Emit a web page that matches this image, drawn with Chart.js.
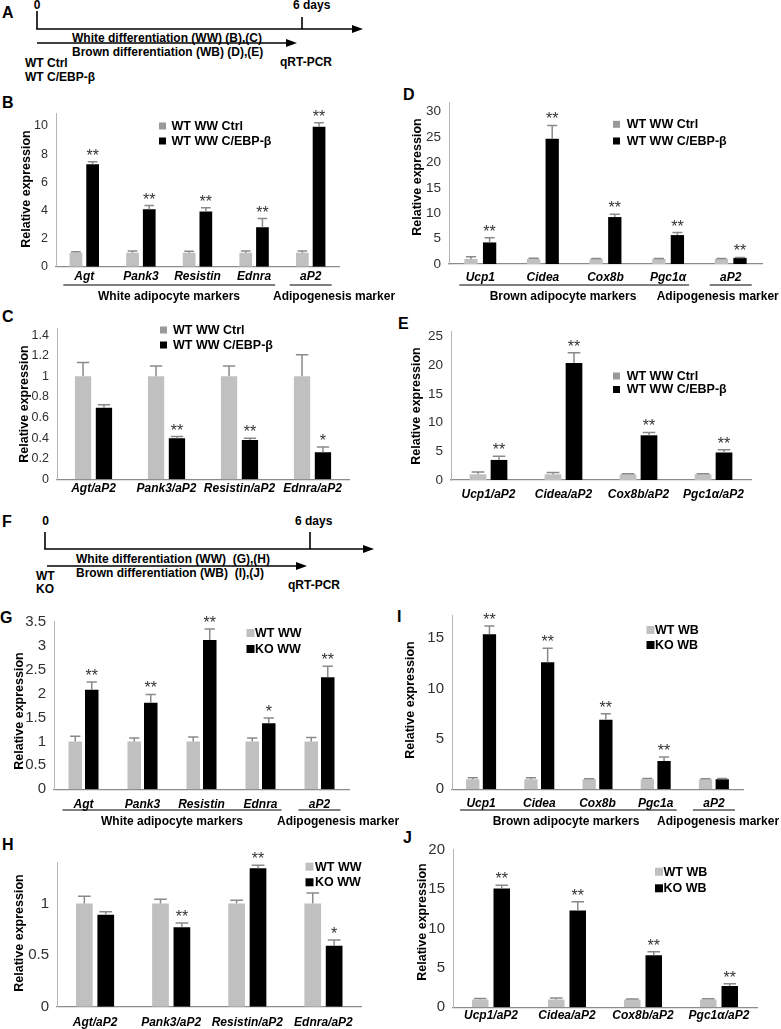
<!DOCTYPE html>
<html>
<head>
<meta charset="utf-8">
<script src="https://cdn.jsdelivr.net/npm/chart.js@4.4.1/dist/chart.umd.min.js"></script>
<style>
  html, body { margin: 0; padding: 0; background: #fff; }
  #page { position: relative; width: 781px; height: 1029px; overflow: hidden; }
  #page svg { position: absolute; left: 0; top: 0; }
  svg text { font-family: "Liberation Sans", Arial, sans-serif; fill: #000; white-space: pre; }
  svg .t { font-size: 12px; font-weight: bold; }
  svg .L { font-size: 16px; font-weight: bold; }
  svg line { stroke: #000; stroke-width: 1.6; }
</style>
</head>
<body>
<div id="page">
<svg width="781" height="1029">
  <!-- A: timeline -->
  <text x="2" y="18" class="L">A</text>
  <text x="37" y="8.5" text-anchor="middle" class="t">0</text>
  <line x1="37" y1="11" x2="37" y2="29"/>
  <line x1="36.2" y1="29" x2="354" y2="29"/>
  <polygon points="352,25 363,29 352,33"/>
  <line x1="302" y1="17" x2="302" y2="29"/>
  <text x="293" y="8.5" class="t">6 days</text>
  <line x1="37" y1="43" x2="288" y2="43"/>
  <polygon points="286,39 297,43 286,47"/>
  <text x="72" y="41.5" class="t">White differentiation (WW) (B),(C)</text>
  <text x="72" y="55.5" class="t">Brown differentiation (WB) (D),(E)</text>
  <text x="25" y="66.5" class="t">WT Ctrl</text>
  <text x="25" y="81" class="t">WT C/EBP-β</text>
  <text x="280" y="66" class="t">qRT-PCR</text>
  <text x="2" y="108" class="L">B</text>
  <text x="2" y="322" class="L">C</text>
  <text x="403" y="100" class="L">D</text>
  <text x="398" y="329" class="L">E</text>
  <!-- F: timeline -->
  <text x="2" y="527" class="L">F</text>
  <text x="45.5" y="525" text-anchor="middle" class="t">0</text>
  <line x1="45" y1="532" x2="45" y2="549"/>
  <line x1="44.2" y1="549" x2="365" y2="549"/>
  <polygon points="363,545 374,549 363,553"/>
  <line x1="310" y1="532" x2="310" y2="549"/>
  <text x="295" y="525" class="t">6 days</text>
  <line x1="47" y1="566" x2="298" y2="566"/>
  <polygon points="296,562 307,566 296,570"/>
  <text x="76" y="563" class="t">White differentiation (WW)  (G),(H)</text>
  <text x="76" y="577" class="t">Brown differentiation (WB)  (I),(J)</text>
  <text x="36" y="580" class="t">WT</text>
  <text x="36" y="593" class="t">KO</text>
  <text x="288" y="588.5" class="t">qRT-PCR</text>
  <text x="0" y="623" class="L">G</text>
  <text x="397" y="622" class="L">I</text>
  <text x="2" y="850" class="L">H</text>
  <text x="403" y="843" class="L">J</text>
</svg>
</div>
<script>
// ---- B: white markers, WT WW Ctrl vs C/EBP-β ----
const bCats = ['Agt', 'Pank3', 'Resistin', 'Ednra', 'aP2'];
const bCtrl = [1, 1, 1, 1, 1];
const bCtrlErr = [0.06, 0.12, 0.1, 0.12, 0.12];
const bCebp = [7.28, 4.08, 3.92, 2.8, 9.95];
const bCebpErr = [0.18, 0.26, 0.26, 0.62, 0.28];
const bStars = ['**', '**', '**', '**', '**'];
const bTicks = [0, 2, 4, 6, 8, 10];

// ---- C: white markers / aP2 ----
const cCats = ['Agt/aP2', 'Pank3/aP2', 'Resistin/aP2', 'Ednra/aP2'];
const cCtrl = [1, 1, 1, 1];
const cCtrlErr = [0.135, 0.1, 0.1, 0.21];
const cCebp = [0.695, 0.4, 0.383, 0.263];
const cCebpErr = [0.03, 0.015, 0.015, 0.052];
const cStars = ['', '**', '**', '*'];
const cTicks = [0, 0.2, 0.4, 0.6, 0.8, 1, 1.2, 1.4];

// ---- D: brown markers ----
const dCats = ['Ucp1', 'Cidea', 'Cox8b', 'Pgc1α', 'aP2'];
const dCtrl = [1, 1, 1, 1, 1];
const dCtrlErr = [0.42, 0.15, 0.1, 0.1, 0.1];
const dCebp = [4.25, 24.7, 9.25, 5.7, 1.2];
const dCebpErr = [0.9, 2.6, 0.55, 0.5, 0.1];
const dStars = ['**', '**', '**', '**', '**'];
const dTicks = [0, 5, 10, 15, 20, 25, 30];

// ---- E: brown markers / aP2 ----
const eCats = ['Ucp1/aP2', 'Cidea/aP2', 'Cox8b/aP2', 'Pgc1α/aP2'];
const eCtrl = [1, 1, 1, 1];
const eCtrlErr = [0.4, 0.3, 0.1, 0.1];
const eCebp = [3.5, 20.4, 7.8, 4.8];
const eCebpErr = [0.65, 1.8, 0.5, 0.5];
const eStars = ['**', '**', '**', '**'];
const eTicks = [0, 5, 10, 15, 20, 25];

// ---- G: WT WW vs KO WW ----
const gCats = ['Agt', 'Pank3', 'Resistin', 'Ednra', 'aP2'];
const gWt = [1, 1, 1, 1, 1];
const gWtErr = [0.11, 0.07, 0.09, 0.07, 0.08];
const gKo = [2.08, 1.81, 3.12, 1.38, 2.34];
const gKoErr = [0.16, 0.17, 0.23, 0.11, 0.23];
const gStars = ['**', '**', '**', '*', '**'];
const gTicks = [0, 0.5, 1, 1.5, 2, 2.5, 3, 3.5];

// ---- I: WT WB vs KO WB ----
const iCats = ['Ucp1', 'Cidea', 'Cox8b', 'Pgc1a', 'aP2'];
const iWt = [1, 1, 1, 1, 1];
const iWtErr = [0.15, 0.15, 0.05, 0.07, 0.05];
const iKo = [15.4, 12.6, 6.9, 2.8, 1.0];
const iKoErr = [0.8, 1.4, 0.6, 0.4, 0.06];
const iStars = ['**', '**', '**', '**', ''];
const iTicks = [0, 5, 10, 15];

// ---- H: white markers / aP2, WT vs KO ----
const hCats = ['Agt/aP2', 'Pank3/aP2', 'Resistin/aP2', 'Ednra/aP2'];
const hWt = [1, 1, 1, 1];
const hWtErr = [0.07, 0.04, 0.03, 0.1];
const hKo = [0.89, 0.77, 1.34, 0.59];
const hKoErr = [0.03, 0.04, 0.03, 0.055];
const hStars = ['', '**', '**', '*'];
const hTicks = [0, 0.5, 1];

// ---- J: brown markers / aP2, WT vs KO ----
const jCats = ['Ucp1/aP2', 'Cidea/aP2', 'Cox8b/aP2', 'Pgc1α/aP2'];
const jWt = [1, 1, 1, 1];
const jWtErr = [0.12, 0.18, 0.07, 0.08];
const jKo = [15.1, 12.3, 6.6, 2.7];
const jKoErr = [0.42, 1.1, 0.45, 0.3];
const jStars = ['**', '**', '**', '**'];
const jTicks = [0, 5, 10, 15, 20];

const FONT = '"Liberation Sans", Arial, sans-serif';
const GREY = '#c0c0c0';
Chart.defaults.font.family = FONT;
Chart.defaults.animation = false;

// error bars, stars, legend, y title, marker groups
function makeDecor(p) {
  return {
    id: 'decor',
    afterDatasetsDraw(chart) {
      const ctx = chart.ctx;
      const ys = chart.scales.y, xs = chart.scales.x;
      const X = v => v - p.box.x, Y = v => v - p.box.y;
      ctx.save();
      chart.data.datasets.forEach((ds, i) => {
        chart.getDatasetMeta(i).data.forEach((bar, j) => {
          const top = ys.getPixelForValue(ds.data[j] + ds.err[j]);
          const hw = bar.width * 0.38;
          ctx.strokeStyle = '#8a8a8a';
          ctx.lineWidth = 1.5;
          ctx.beginPath();
          ctx.moveTo(bar.x, bar.y);
          ctx.lineTo(bar.x, top);
          ctx.moveTo(bar.x - hw, top);
          ctx.lineTo(bar.x + hw, top);
          ctx.stroke();
          if (ds.stars && ds.stars[j]) {
            ctx.fillStyle = '#333';
            ctx.font = '16px ' + FONT;
            ctx.textAlign = 'center';
            ctx.textBaseline = 'alphabetic';
            ctx.fillText(ds.stars[j], bar.x, top - 1);
          }
        });
      });

      // legend
      const lg = p.legend;
      chart.data.datasets.forEach((ds, i) => {
        const cy = Y(lg.y[i]);
        ctx.fillStyle = lg.sq[i];
        ctx.fillRect(X(lg.sx), cy - lg.size / 2, lg.size, lg.size);
        ctx.fillStyle = '#000';
        ctx.font = 'bold 12.5px ' + FONT;
        ctx.textAlign = 'left';
        ctx.textBaseline = 'middle';
        ctx.fillText(ds.label, X(lg.tx), cy + 0.5);
      });

      // y title
      ctx.save();
      ctx.translate(X(p.title.x), Y(p.title.y));
      ctx.rotate(-Math.PI / 2);
      ctx.fillStyle = '#000';
      ctx.font = 'bold 12.5px ' + FONT;
      ctx.textAlign = 'center';
      ctx.textBaseline = 'middle';
      ctx.fillText('Relative expression', 0, 0);
      ctx.restore();

      // marker groups under the axis
      (p.groups || []).forEach(g => {
        const x0 = xs.getPixelForValue(g.from) - 21;
        const x1 = xs.getPixelForValue(g.to) + 21;
        ctx.strokeStyle = '#000';
        ctx.lineWidth = 1.2;
        ctx.beginPath();
        ctx.moveTo(x0, Y(p.lineY));
        ctx.lineTo(x1, Y(p.lineY));
        ctx.stroke();
        ctx.fillStyle = '#000';
        ctx.font = 'bold 12px ' + FONT;
        ctx.textAlign = g.align;
        ctx.textBaseline = 'middle';
        ctx.fillText(g.text, X(g.tx), Y(p.textY));
      });
      ctx.restore();
    }
  };
}

function makeChart(p) {
  const cv = document.createElement('canvas');
  cv.width = p.box.w;
  cv.height = p.box.h;
  cv.style.cssText = `position:absolute;left:${p.box.x}px;top:${p.box.y}px;width:${p.box.w}px;height:${p.box.h}px`;
  document.getElementById('page').appendChild(cv);
  const cw = (p.plot.r - p.plot.l) / p.cats.length;
  const slot = p.bw + p.gap;
  // scale boxes take all the room left of / under the plot, so labels are not clipped
  const yw = p.plot.l - p.box.x;
  const xh = p.box.y + p.box.h - p.plot.b;
  return new Chart(cv, {
    type: 'bar',
    data: {
      labels: p.cats,
      datasets: p.series.map(s => ({
        label: s.name,
        data: s.data,
        err: s.err,
        stars: s.stars,
        backgroundColor: s.color,
        borderWidth: 0,
        categoryPercentage: 2 * slot / cw,
        barPercentage: p.bw / slot
      }))
    },
    options: {
      responsive: false,
      animation: false,
      layout: {
        padding: { left: 0, top: p.plot.t - p.box.y, right: p.box.x + p.box.w - p.plot.r, bottom: 0 }
      },
      scales: {
        x: {
          grid: { display: false, drawTicks: false },
          border: { color: '#8c8c8c', width: 1.2 },
          ticks: {
            autoSkip: false, maxRotation: 0, minRotation: 0,
            padding: p.xPad, color: '#000',
            font: { size: 12, weight: 'bold', style: 'italic' }
          },
          afterFit: s => { s.height = xh; }
        },
        y: {
          min: 0,
          max: p.max,
          grid: { display: false, drawTicks: false },
          border: { color: '#b5b5b5' },
          ticks: {
            padding: 8, color: '#303030',
            font: { size: p.tickSize },
            callback: v => String(v)
          },
          afterBuildTicks: s => { s.ticks = p.ticks.map(v => ({ value: v })); },
          afterFit: s => { s.width = yw; }
        }
      },
      plugins: { legend: { display: false }, tooltip: { enabled: false } }
    },
    plugins: [makeDecor(p)]
  });
}

// B
makeChart({
  box: { x: 0, y: 95, w: 410, h: 215 },
  plot: { l: 56, r: 339, t: 113.3, b: 266.7 },
  max: 10.9, ticks: bTicks, tickSize: 12.5, xPad: 3,
  cats: bCats, bw: 12.7, gap: 4,
  series: [
    { name: 'WT WW Ctrl', data: bCtrl, err: bCtrlErr, color: GREY },
    { name: 'WT WW C/EBP-β', data: bCebp, err: bCebpErr, stars: bStars, color: '#000' }
  ],
  legend: { sx: 159, tx: 171.5, y: [126, 141], size: 7, sq: ['#999', '#000'] },
  title: { x: 27, y: 189 },
  lineY: 285, textY: 297,
  groups: [
    { from: 0, to: 3, text: 'White adipocyte markers', tx: 169, align: 'center' },
    { from: 4, to: 4, text: 'Adipogenesis marker', tx: 273, align: 'left' }
  ]
});

// C
makeChart({
  box: { x: 0, y: 312, w: 400, h: 193 },
  plot: { l: 57, r: 349, t: 328, b: 479.3 },
  max: 1.47, ticks: cTicks, tickSize: 12.5, xPad: 2,
  cats: cCats, bw: 16.3, gap: 4.6,
  series: [
    { name: 'WT WW Ctrl', data: cCtrl, err: cCtrlErr, color: GREY },
    { name: 'WT WW C/EBP-β', data: cCebp, err: cCebpErr, stars: cStars, color: '#000' }
  ],
  legend: { sx: 160, tx: 173, y: [330, 345], size: 7, sq: ['#999', '#000'] },
  title: { x: 25, y: 404 }
});

// D
makeChart({
  box: { x: 390, y: 86, w: 391, h: 224 },
  plot: { l: 449, r: 762, t: 97, b: 264 },
  max: 31.9, ticks: dTicks, tickSize: 13.5, xPad: 6,
  cats: dCats, bw: 13.3, gap: 5.3,
  series: [
    { name: 'WT WW Ctrl', data: dCtrl, err: dCtrlErr, color: GREY },
    { name: 'WT WW C/EBP-β', data: dCebp, err: dCebpErr, stars: dStars, color: '#000' }
  ],
  legend: { sx: 613, tx: 626.7, y: [124.3, 141], size: 7, sq: ['#999', '#000'] },
  title: { x: 418, y: 177 },
  lineY: 285, textY: 297,
  groups: [
    { from: 0, to: 3, text: 'Brown adipocyte markers', tx: 563, align: 'center' },
    { from: 4, to: 4, text: 'Adipogenesis marker', tx: 656.7, align: 'left' }
  ]
});

// E
makeChart({
  box: { x: 390, y: 312, w: 391, h: 193 },
  plot: { l: 451, r: 751, t: 331, b: 480 },
  max: 26, ticks: eTicks, tickSize: 13.5, xPad: 7,
  cats: eCats, bw: 16.7, gap: 4.3,
  series: [
    { name: 'WT WW Ctrl', data: eCtrl, err: eCtrlErr, color: GREY },
    { name: 'WT WW C/EBP-β', data: eCebp, err: eCebpErr, stars: eStars, color: '#000' }
  ],
  legend: { sx: 613, tx: 626.7, y: [376, 389.5], size: 7, sq: ['#999', '#000'] },
  title: { x: 417, y: 406 }
});

// G
makeChart({
  box: { x: 0, y: 603, w: 410, h: 227 },
  plot: { l: 54, r: 349, t: 621.7, b: 789.3 },
  max: 3.5, ticks: gTicks, tickSize: 15, xPad: 8,
  cats: gCats, bw: 13.5, gap: 3,
  series: [
    { name: 'WT WW', data: gWt, err: gWtErr, color: GREY },
    { name: 'KO WW', data: gKo, err: gKoErr, stars: gStars, color: '#000' }
  ],
  legend: { sx: 246.5, tx: 255, y: [633, 649], size: 8, sq: [GREY, '#000'] },
  title: { x: 20, y: 711 },
  lineY: 810, textY: 822,
  groups: [
    { from: 0, to: 3, text: 'White adipocyte markers', tx: 172, align: 'center' },
    { from: 4, to: 4, text: 'Adipogenesis marker', tx: 277, align: 'left' }
  ]
});

// I
makeChart({
  box: { x: 390, y: 598, w: 391, h: 232 },
  plot: { l: 452, r: 743, t: 607.6, b: 789.3 },
  max: 17.3, ticks: iTicks, tickSize: 15, xPad: 7,
  cats: iCats, bw: 13.3, gap: 3.4,
  series: [
    { name: 'WT WB', data: iWt, err: iWtErr, color: GREY },
    { name: 'KO WB', data: iKo, err: iKoErr, stars: iStars, color: '#000' }
  ],
  legend: { sx: 646.5, tx: 655, y: [630, 645], size: 8, sq: [GREY, '#000'] },
  title: { x: 411, y: 700 },
  lineY: 810, textY: 822,
  groups: [
    { from: 0, to: 3, text: 'Brown adipocyte markers', tx: 566, align: 'center' },
    { from: 4, to: 4, text: 'Adipogenesis marker', tx: 657, align: 'left' }
  ]
});

// H
makeChart({
  box: { x: 0, y: 832, w: 400, h: 197 },
  plot: { l: 57, r: 361.5, t: 862.1, b: 1006.7 },
  max: 1.4, ticks: hTicks, tickSize: 15, xPad: 8.5,
  cats: hCats, bw: 16.7, gap: 4.7,
  series: [
    { name: 'WT WW', data: hWt, err: hWtErr, color: GREY },
    { name: 'KO WW', data: hKo, err: hKoErr, stars: hStars, color: '#000' }
  ],
  legend: { sx: 305.5, tx: 315, y: [866.7, 882.3], size: 8, sq: [GREY, '#000'] },
  title: { x: 20, y: 933 }
});

// J
makeChart({
  box: { x: 390, y: 832, w: 391, h: 197 },
  plot: { l: 453, r: 757, t: 849.9, b: 1007.3 },
  max: 20, ticks: jTicks, tickSize: 15, xPad: 1,
  cats: jCats, bw: 16.5, gap: 5,
  series: [
    { name: 'WT WB', data: jWt, err: jWtErr, color: GREY },
    { name: 'KO WB', data: jKo, err: jKoErr, stars: jStars, color: '#000' }
  ],
  legend: { sx: 655, tx: 663.5, y: [871.7, 888.3], size: 8, sq: [GREY, '#000'] },
  title: { x: 423, y: 922 }
});
</script>
</body>
</html>
